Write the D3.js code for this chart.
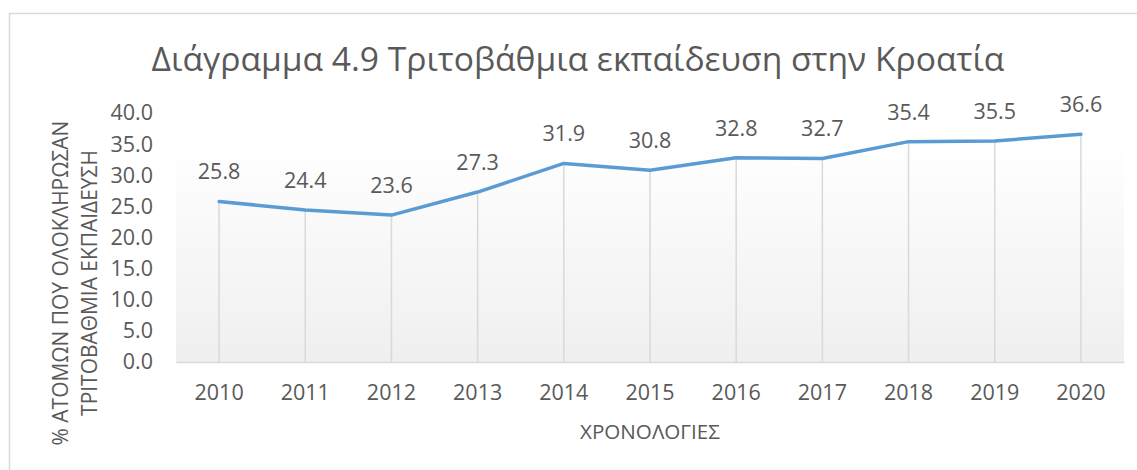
<!DOCTYPE html>
<html>
<head>
<meta charset="utf-8">
<script src="https://cdn.jsdelivr.net/npm/d3@7"></script>
<style>
  body { margin: 0; background: #fff; }
  text { font-family: "Open Sans", "Noto Sans", sans-serif; fill: #595959; }
</style>
</head>
<body>
<svg id="chart" width="1137" height="470"></svg>
<script>
// data
const years = [2010, 2011, 2012, 2013, 2014, 2015, 2016, 2017, 2018, 2019, 2020];
const values = [25.8, 24.4, 23.6, 27.3, 31.9, 30.8, 32.8, 32.7, 35.4, 35.5, 36.6];
const yTicks = [0, 5, 10, 15, 20, 25, 30, 35, 40];
const titleText = "Διάγραμμα 4.9 Τριτοβάθμια εκπαίδευση στην Κροατία";
const xTitle = "ΧΡΟΝΟΛΟΓΙΕΣ";
const yTitle = ["% ΑΤΟΜΩΝ ΠΟΥ ΟΛΟΚΛΗΡΩΣΑΝ", "ΤΡΙΤΟΒΑΘΜΙΑ ΕΚΠΑΙΔΕΥΣΗ"];

const data = years.map((y, i) => ({year: y, value: values[i]}));

const margin = {top: 113, right: 13, bottom: 108, left: 176};
const width = 1137 - margin.left - margin.right;
const height = 470 - margin.top - margin.bottom;

const svg = d3.select("#chart");

// scale a text's font size so it spans the given width
function fitWidth(sel, size, target) {
    sel.attr("font-size", size);
    const w = sel.node().getComputedTextLength();
    sel.attr("font-size", size * target / w);
}

// outer chart border (runs off the right and bottom edges)
svg.append("rect")
    .attr("x", 9.5).attr("y", 13.5)
    .attr("width", 1140).attr("height", 470)
    .attr("fill", "#fff")
    .attr("stroke", "#d9d9d9")
    .attr("stroke-width", 1.5);

const defs = svg.append("defs");
const grad = defs.append("linearGradient")
    .attr("id", "plotFill")
    .attr("x1", 0).attr("y1", 0).attr("x2", 0).attr("y2", 1);
grad.append("stop").attr("offset", "0%").attr("stop-color", "#ffffff");
grad.append("stop").attr("offset", "100%").attr("stop-color", "#efefef");

const g = svg.append("g")
    .attr("transform", `translate(${margin.left},${margin.top})`);

const x = d3.scaleBand()
    .domain(years)
    .range([0, width]);

const y = d3.scaleLinear()
    .domain([0, 40])
    .range([height, 0]);

const cx = d => x(d.year) + x.bandwidth() / 2;

g.append("rect")
    .attr("x", 0).attr("y", y(35.3))
    .attr("width", width).attr("height", height - y(35.3))
    .attr("fill", "url(#plotFill)");

// drop lines
g.selectAll(".drop")
    .data(data)
    .enter().append("line")
    .attr("class", "drop")
    .attr("x1", cx).attr("x2", cx)
    .attr("y1", d => y(d.value)).attr("y2", height)
    .attr("stroke", "#d9d9d9")
    .attr("stroke-width", 1.5);

// x axis
const xAxis = g.append("g")
    .attr("transform", `translate(0,${height})`)
    .call(d3.axisBottom(x).tickSize(0).tickPadding(23));
xAxis.select(".domain").attr("stroke", "#d9d9d9").attr("stroke-width", 1.5);
xAxis.selectAll("text")
    .attr("font-size", 21.5)
    .style("font-family", "\"Open Sans\", sans-serif")
    .attr("fill", "#595959");

// y axis
const yAxis = g.append("g")
    .call(d3.axisLeft(y).tickValues(yTicks).tickSize(0).tickPadding(23)
        .tickFormat(d3.format(".1f")));
yAxis.select(".domain").remove();
yAxis.selectAll("text")
    .attr("font-size", 21.5)
    .style("font-family", "\"Open Sans\", sans-serif")
    .attr("fill", "#595959");

// line
const line = d3.line()
    .x(cx)
    .y(d => y(d.value));

g.append("path")
    .datum(data)
    .attr("fill", "none")
    .attr("stroke", "#5b9bd5")
    .attr("stroke-width", 3.5)
    .attr("stroke-linejoin", "round")
    .attr("stroke-linecap", "round")
    .attr("d", line);

// data labels
g.selectAll(".label")
    .data(data)
    .enter().append("text")
    .attr("class", "label")
    .attr("x", cx)
    .attr("y", d => y(d.value) - 22)
    .attr("text-anchor", "middle")
    .attr("font-size", 21.5)
    .text(d => d.value.toFixed(1));

// title
const title = svg.append("text")
    .attr("x", 578)
    .attr("y", 71)
    .attr("text-anchor", "middle")
    .text(titleText);
fitWidth(title, 30, 853);

// axis titles
const xt = svg.append("text")
    .attr("x", 650)
    .attr("y", 439)
    .attr("text-anchor", "middle")
    .text(xTitle);
fitWidth(xt, 16, 140);

const yLens = [325, 266];
yTitle.forEach((t, i) => {
    const yt = svg.append("text")
        .attr("transform", `translate(${68 + i * 29},283) rotate(-90)`)
        .attr("text-anchor", "middle")
        .text(t);
    fitWidth(yt, 17, yLens[i]);
});
</script>
</body>
</html>
